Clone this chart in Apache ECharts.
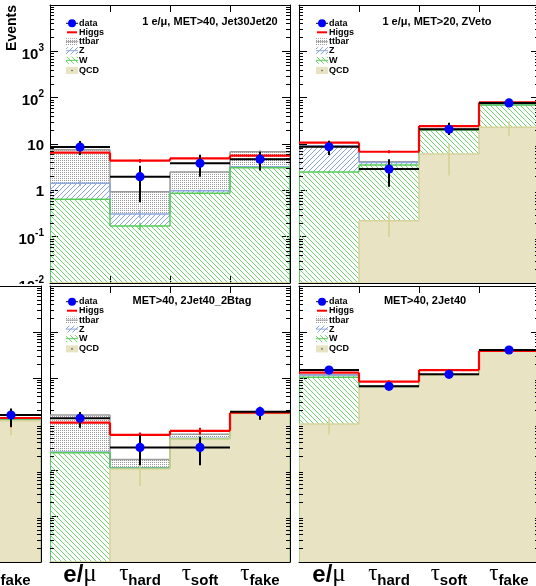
<!DOCTYPE html>
<html><head><meta charset="utf-8">
<script src="https://cdn.jsdelivr.net/npm/echarts@6/dist/echarts.min.js"></script>
<style>html,body{margin:0;padding:0;background:#fff}#c{width:536px;height:586px}</style>
</head><body><div id="c"></div>
<script>
const YMIN = 0.01, YMAX = 10000;
const binLabels = ['e/μ', 'τhard', 'τsoft', 'τfake'];

// Panel A: 1 e/μ, MET>40, Jet30Jet20
const A_qcd = [0, 0, 0, 0];
const A_w = [0.64, 0.17, 0.86, 3.09];
const A_z = [0.78, 0.14, 0.12, 0.15];
const A_ttbar = [6.1, 0.62, 1.52, 3.56];
const A_higgs = [6.5, 4.36, 4.9, 5.6];
const A_data = [8.6, 1.97, 3.83, 4.7];
const A_dataUp = [3.0, 1.43, 2.0, 2.1];
const A_dataDn = [2.8, 1.42, 1.86, 2.03];
const A_qcdErr = [0, 0, 0, 0];
const A_wErr = [0.03, 0.03, 0.05, 0.15];
const A_zErr = [0.2, 0.06, 0.06, 0.1];
const A_ttErr = [0.5, 0.1, 0.2, 0.5];
const A_higgsErr = [0.5, 0.4, 0.45, 0.5];

// Panel B: 1 e/μ, MET>20, ZVeto
const B_qcd = [0, 0.22, 6.1, 23];
const B_w = [2.5, 3.28, 13.9, 46.5];
const B_z = [6.5, 0.5, 0.5, 0.5];
const B_ttbar = [0.2, 0.15, 0.5, 1.0];
const B_higgs = [10.7, 6.8, 24.4, 79];
const B_data = [8.7, 2.88, 20.8, 77];
const B_dataUp = [3.1, 1.8, 8.1, 9];
const B_dataDn = [2.9, 1.68, 5.2, 9];
const B_qcdErr = [0, 0.12, 4, 8];
const B_wErr = [0.1, 0.2, 1, 3];
const B_zErr = [0.4, 0.1, 0.2, 0.3];
const B_ttErr = [0.1, 0.05, 0.2, 0.3];
const B_higgsErr = [0.8, 0.5, 1.5, 4];

// Panel C: partially visible pad (only its last bin lies inside the picture)
const C_qcd = [null, null, null, 11.7];
const C_w = [null, null, null, 0.5];
const C_z = [null, null, null, 0.1];
const C_ttbar = [null, null, null, 0.2];
const C_higgs = [null, null, null, 13.5];
const C_data = [null, null, null, 15.7];
const C_dataUp = [null, null, null, 6];
const C_dataDn = [null, null, null, 7];
const C_qcdErr = [null, null, null, 6];
const C_wErr = [null, null, null, 0.1];
const C_zErr = [null, null, null, 0.05];
const C_ttErr = [null, null, null, 0.1];
const C_higgsErr = [null, null, null, 5];

// Panel D: MET>40, 2Jet40_2Btag
const D_qcd = [0, 1.05, 4.7, 17];
const D_w = [2.38, 0.04, 0.1, 0.1];
const D_z = [0.07, 0.03, 0.1, 0.05];
const D_ttbar = [13.2, 0.58, 1.1, 0.1];
const D_higgs = [10.7, 5.8, 7.1, 17.6];
const D_data = [13.3, 3.1, 3.1, 18.5];
const D_dataUp = [5, 2.7, 2.2, 5.1];
const D_dataDn = [5, 1.83, 1.83, 6.2];
const D_qcdErr = [0, 0.6, 1, 3];
const D_wErr = [0.05, 0.01, 0.02, 0.02];
const D_zErr = [0.05, 0.01, 0.02, 0.02];
const D_ttErr = [1.5, 0.2, 0.3, 0.1];
const D_higgsErr = [1.0, 0.7, 1.2, 1.5];

// Panel E: MET>40, 2Jet40
const E_qcd = [10, 64, 115, 380];
const E_w = [93.5, 1, 1, 5];
const E_z = [12.5, 0.5, 0.5, 2];
const E_ttbar = [2, 0.5, 1.5, 3];
const E_higgs = [130.6, 83, 149, 390];
const E_data = [149, 66, 120, 406];
const E_dataUp = [12, 8, 11, 20];
const E_dataDn = [12, 8, 11, 20];
const E_qcdErr = [4, 3, 5, 10];
const E_wErr = [3, 0.5, 0.5, 1];
const E_zErr = [1, 0.2, 0.2, 0.5];
const E_ttErr = [0.5, 0.2, 0.3, 0.5];
const E_higgsErr = [4, 6, 8, 10];

const panels = [
  {title: '1 e/μ, MET>40, Jet30Jet20', g: {left: 50, top: 5, width: 240, height: 278}, tx: 210, ty: 22, lx: 72, ly: 23.3, yLab: true, xLab: false,
   qcd: A_qcd, w: A_w, z: A_z, tt: A_ttbar, higgs: A_higgs, data: A_data, up: A_dataUp, dn: A_dataDn, qcdErr: A_qcdErr, wErr: A_wErr, zErr: A_zErr, ttErr: A_ttErr, hErr: A_higgsErr},
  {title: '1 e/μ, MET>20, ZVeto', g: {left: 299, top: 5, width: 240, height: 278}, tx: 437, ty: 22, lx: 322, ly: 23.3, yLab: false, xLab: false,
   qcd: B_qcd, w: B_w, z: B_z, tt: B_ttbar, higgs: B_higgs, data: B_data, up: B_dataUp, dn: B_dataDn, qcdErr: B_qcdErr, wErr: B_wErr, zErr: B_zErr, ttErr: B_ttErr, hErr: B_higgsErr},
  {title: null, g: {left: -199, top: 286, width: 240, height: 276}, yLab: false, xLab: true,
   qcd: C_qcd, w: C_w, z: C_z, tt: C_ttbar, higgs: C_higgs, data: C_data, up: C_dataUp, dn: C_dataDn, qcdErr: C_qcdErr, wErr: C_wErr, zErr: C_zErr, ttErr: C_ttErr, hErr: C_higgsErr},
  {title: 'MET>40, 2Jet40_2Btag', g: {left: 50, top: 286, width: 240, height: 276}, tx: 192, ty: 301, lx: 72, ly: 301.7, yLab: false, xLab: true,
   qcd: D_qcd, w: D_w, z: D_z, tt: D_ttbar, higgs: D_higgs, data: D_data, up: D_dataUp, dn: D_dataDn, qcdErr: D_qcdErr, wErr: D_wErr, zErr: D_zErr, ttErr: D_ttErr, hErr: D_higgsErr},
  {title: 'MET>40, 2Jet40', g: {left: 299, top: 286, width: 240, height: 276}, tx: 425, ty: 301, lx: 322, ly: 301.7, yLab: false, xLab: true,
   qcd: E_qcd, w: E_w, z: E_z, tt: E_ttbar, higgs: E_higgs, data: E_data, up: E_dataUp, dn: E_dataDn, qcdErr: E_qcdErr, wErr: E_wErr, zErr: E_zErr, ttErr: E_ttErr, hErr: E_higgsErr}
];

// ---------- styles ----------
function makeHatch(color, dir, s) {
  const c = document.createElement('canvas'); c.width = s; c.height = s;
  const g = c.getContext('2d');
  g.strokeStyle = color; g.lineWidth = 1;
  g.beginPath();
  if (dir > 0) {
    g.moveTo(-1, s + 1); g.lineTo(s + 1, -1);
    g.moveTo(-1, 1); g.lineTo(1, -1);
    g.moveTo(s - 1, s + 1); g.lineTo(s + 1, s - 1);
  } else {
    g.moveTo(-1, -1); g.lineTo(s + 1, s + 1);
    g.moveTo(s - 1, -1); g.lineTo(s + 1, 1);
    g.moveTo(-1, s - 1); g.lineTo(1, s + 1);
  }
  g.stroke();
  return {image: c, repeat: 'repeat'};
}
function makeDots() {
  const c = document.createElement('canvas'); c.width = 4; c.height = 4;
  const g = c.getContext('2d');
  g.fillStyle = '#ffffff'; g.fillRect(0, 0, 4, 4);
  g.fillStyle = '#9a9a9a';
  g.fillRect(0, 0, 1, 1); g.fillRect(2, 2, 1, 1); g.fillRect(2, 0, 1, 1); g.fillRect(0, 2, 1, 1);
  return {image: c, repeat: 'repeat'};
}
const FILL = {qcd: '#e7e3c3', w: makeHatch('#6fd56f', -1, 5), z: makeHatch('#88a2dc', 1, 5), tt: makeDots()};
const LINE = {qcd: '#d7d39c', w: '#55cc55', z: '#8ea7dc', tt: '#9a9a9a'};
const COMP = ['qcd', 'w', 'z', 'tt'];
const FONT = 'Liberation Sans';

function clampV(v) { return Math.min(YMAX, Math.max(YMIN, v)); }
function yAt(api, i, v) { return api.coord([i, clampV(v)])[1]; }
function cumTops(P, i) {
  if (P.qcd[i] == null) return null;
  const t = {}; let c = 0;
  COMP.forEach(k => { c += P[k][i]; t[k] = c; });
  return t;
}

function fillRender(P) {
  return function (params, api) {
    const i = params.dataIndex;
    const t = cumTops(P, i); if (!t) return null;
    const cx = api.coord([i, 1])[0], hw = api.size([1, 0])[0] / 2;
    const ch = []; let lo = 0;
    COMP.forEach(k => {
      const hi = t[k];
      if (hi > lo) {
        const y1 = yAt(api, i, hi), y0 = yAt(api, i, lo);
        if (y0 - y1 > 0.1) ch.push({type: 'rect', shape: {x: cx - hw, y: y1, width: 2 * hw, height: y0 - y1}, style: {fill: FILL[k]}});
      }
      lo = hi;
    });
    return {type: 'group', children: ch};
  };
}
function stepLines(api, i, vals, color, width, ends) {
  const cx = api.coord([i, 1])[0], hw = api.size([1, 0])[0] / 2;
  const y = yAt(api, i, vals[i]);
  const ch = [{type: 'line', shape: {x1: cx - hw, y1: y, x2: cx + hw, y2: y}, style: {stroke: color, lineWidth: width}}];
  if (i + 1 < vals.length && vals[i + 1] != null) {
    const yn = yAt(api, i + 1, vals[i + 1]);
    ch.push({type: 'line', shape: {x1: cx + hw, y1: y, x2: cx + hw, y2: yn}, style: {stroke: color, lineWidth: width}});
  }
  if (ends) {
    const yb = yAt(api, i, YMIN);
    if (i === 0) ch.push({type: 'line', shape: {x1: cx - hw, y1: y, x2: cx - hw, y2: yb}, style: {stroke: color, lineWidth: width}});
    if (i === vals.length - 1) ch.push({type: 'line', shape: {x1: cx + hw, y1: y, x2: cx + hw, y2: yb}, style: {stroke: color, lineWidth: width}});
  }
  return ch;
}
function outlineRender(P) {
  return function (params, api) {
    const i = params.dataIndex;
    if (P.qcd[i] == null) return null;
    const tops = {}; COMP.forEach(k => tops[k] = P.qcd.map((_, j) => { const t = cumTops(P, j); return t ? t[k] : null; }));
    let ch = [];
    ['tt', 'z', 'w', 'qcd'].forEach(k => { ch = ch.concat(stepLines(api, i, tops[k], LINE[k], 1.5, true)); });
    const t = cumTops(P, i), cx = api.coord([i, 1])[0];
    const errs = {qcd: P.qcdErr, w: P.wErr, z: P.zErr, tt: P.ttErr};
    ['tt', 'z', 'w', 'qcd'].forEach(k => {
      const e = errs[k][i];
      if (e > 0 && P[k][i] > 0) {
        ch.push({type: 'line', shape: {x1: cx, y1: yAt(api, i, t[k] + e), x2: cx, y2: yAt(api, i, t[k] - e)}, style: {stroke: k === 'qcd' ? '#d6d08e' : LINE[k], lineWidth: 1.5}});
      }
    });
    return {type: 'group', children: ch};
  };
}
function higgsRender(P) {
  return function (params, api) {
    const i = params.dataIndex;
    if (P.higgs[i] == null) return null;
    const ch = stepLines(api, i, P.higgs, '#ff0000', 2.2, false);
    const cx = api.coord([i, 1])[0], v = P.higgs[i], e = P.hErr[i];
    ch.push({type: 'line', shape: {x1: cx, y1: yAt(api, i, v + e), x2: cx, y2: yAt(api, i, v - e)}, style: {stroke: '#ff0000', lineWidth: 2}});
    return {type: 'group', children: ch};
  };
}
function dataRender(P) {
  return function (params, api) {
    const i = params.dataIndex;
    if (P.data[i] == null) return null;
    const c = api.coord([i, clampV(P.data[i])]), hw = api.size([1, 0])[0] / 2;
    const yt = yAt(api, i, P.data[i] + P.up[i]), yb = yAt(api, i, P.data[i] - P.dn[i]);
    return {type: 'group', children: [
      {type: 'line', shape: {x1: c[0] - hw, y1: c[1], x2: c[0] + hw, y2: c[1]}, style: {stroke: '#000', lineWidth: 2}},
      {type: 'line', shape: {x1: c[0], y1: yt, x2: c[0], y2: yb}, style: {stroke: '#000', lineWidth: 2}},
      {type: 'circle', shape: {cx: c[0], cy: c[1], r: 4.6}, style: {fill: '#0000ff'}}
    ]};
  };
}
// minor log ticks (2..9 x 10^k)
const minorVals = [];
for (let e = -2; e < 4; e++) for (let m = 2; m <= 9; m++) minorVals.push(+(m * Math.pow(10, e)).toPrecision(3));
function minorRender(params, api) {
  const v = minorVals[params.dataIndex];
  const y = Math.round(api.coord([0, v])[1]) + 0.5;
  const cs = params.coordSys;
  return {type: 'group', children: [
    {type: 'line', shape: {x1: cs.x, y1: y, x2: cs.x + 4, y2: y}, style: {stroke: '#000', lineWidth: 1}},
    {type: 'line', shape: {x1: cs.x + cs.width - 4, y1: y, x2: cs.x + cs.width, y2: y}, style: {stroke: '#000', lineWidth: 1}}
  ]};
}

const grid = [], xAxis = [], yAxis = [], series = [], graphic = [];
const binIdx = binLabels.map((b, i) => [i, 1]);

panels.forEach((P, pi) => {
  const bottom = P.g.top > 100;
  const zz = bottom ? 5 : 2;
  grid.push(Object.assign({show: false, containLabel: false, outerBoundsMode: 'none'}, P.g));
  const xa = (pos, lab) => ({
    type: 'category', gridIndex: pi, position: pos, data: binLabels, boundaryGap: true, z: zz,
    axisLine: {show: true, onZero: false, lineStyle: {color: '#000', width: 1}},
    axisTick: {show: true, inside: true, length: 7, interval: 0, lineStyle: {color: '#000', width: 1}},
    splitLine: {show: false},
    axisLabel: {show: lab, interval: 0, margin: 0, hideOverlap: false,
      formatter: v => v === 'e/μ' ? '{e|e/}{mu|μ}' : '{t|τ}{s|' + v.slice(1) + '}',
      rich: {
        e: {fontFamily: FONT, fontWeight: 'bold', fontSize: 24, color: '#000', verticalAlign: 'bottom'},
        mu: {fontFamily: 'Liberation Serif', fontSize: 25, color: '#000', verticalAlign: 'bottom'},
        t: {fontFamily: 'Liberation Serif', fontSize: 23, color: '#000', verticalAlign: 'bottom', padding: [0, 0, 3, 0]},
        s: {fontFamily: FONT, fontWeight: 'bold', fontSize: 15, color: '#000', verticalAlign: 'bottom'}
      }}
  });
  xAxis.push(xa('bottom', P.xLab), xa('top', false));
  const ya = (pos, lab) => ({
    type: 'log', logBase: 10, gridIndex: pi, position: pos, min: YMIN, max: YMAX, z: zz,
    axisLine: {show: true, lineStyle: {color: '#000', width: 1}},
    axisTick: {show: true, inside: true, length: 8, lineStyle: {color: '#000', width: 1}},
    splitLine: {show: false}, minorTick: {show: false},
    axisLabel: {show: lab, margin: 6, showMaxLabel: false,
      formatter: v => {
        const e = Math.round(Math.log10(v));
        if (e === 0) return '{b|1}';
        if (e === 1) return '{b|10}';
        return '{b|10}{s|' + e + '}';
      },
      rich: {
        b: {fontFamily: FONT, fontWeight: 'bold', fontSize: 15, color: '#000', verticalAlign: 'bottom', padding: [0, 0, -3, 0]},
        s: {fontFamily: FONT, fontWeight: 'bold', fontSize: 10, color: '#000', verticalAlign: 'bottom', padding: [0, 0, 6, 0]}
      }}
  });
  yAxis.push(ya('left', P.yLab), ya('right', false));
  const base = {type: 'custom', xAxisIndex: 2 * pi, yAxisIndex: 2 * pi, z: zz + 1, silent: true, animation: false, clip: true};
  series.push(Object.assign({}, base, {name: 'stack', data: binIdx, renderItem: fillRender(P)}));
  series.push(Object.assign({}, base, {name: 'stackLines', data: binIdx, renderItem: outlineRender(P)}));
  series.push(Object.assign({}, base, {name: 'Higgs', data: binIdx, renderItem: higgsRender(P), clip: false}));
  series.push(Object.assign({}, base, {name: 'data', data: binIdx, renderItem: dataRender(P), clip: false}));
  series.push(Object.assign({}, base, {name: 'minor', data: minorVals.map(v => [0, v]), renderItem: minorRender, z: zz + 2}));

  if (P.title) {
    graphic.push({type: 'text', x: P.tx, y: P.ty, z: 20, style: {text: P.title, font: 'bold 11px "Liberation Sans"', fill: '#000', align: 'center', verticalAlign: 'middle'}});
  }
  if (P.lx !== undefined) {
    const x0 = P.lx, dy = [0, 9, 18.4, 27.4, 37, 47.2];
    const rows = ['data', 'Higgs', 'ttbar', 'Z', 'W', 'QCD'];
    rows.forEach((r, k) => {
      graphic.push({type: 'text', x: x0 + 7, y: P.ly + dy[k], z: 20, style: {text: r, font: 'bold 9px "Liberation Sans"', fill: '#000', align: 'left', verticalAlign: 'middle'}});
    });
    const y = k => P.ly + dy[k];
    graphic.push({type: 'line', z: 20, shape: {x1: x0 - 6, y1: y(0), x2: x0 + 6, y2: y(0)}, style: {stroke: '#000', lineWidth: 1}});
    graphic.push({type: 'circle', z: 21, shape: {cx: x0, cy: y(0), r: 4}, style: {fill: '#0000ff'}});
    graphic.push({type: 'line', z: 20, shape: {x1: x0 - 5, y1: y(1), x2: x0 + 5, y2: y(1)}, style: {stroke: '#ff0000', lineWidth: 2}});
    [['tt', 2], ['z', 3], ['w', 4], ['qcd', 5]].forEach(([k, r]) => {
      graphic.push({type: 'rect', z: 20, shape: {x: x0 - 6, y: y(r) - 3.5, width: 12, height: 7}, style: {fill: FILL[k]}});
      if (k !== 'qcd') graphic.push({type: 'line', z: 21, shape: {x1: x0 - 6, y1: y(r), x2: x0 + 6, y2: y(r)}, style: {stroke: LINE[k], lineWidth: 1}});
      else graphic.push({type: 'circle', z: 21, shape: {cx: x0, cy: y(r), r: 0.8}, style: {fill: '#555'}});
    });
  }
});

// the lower row of pads lies over the lower edge of the upper row
graphic.push({type: 'rect', z: 3, shape: {x: 0, y: 284, width: 536, height: 302}, style: {fill: '#fff'}});
graphic.push({type: 'text', x: 12, y: 5, rotation: Math.PI / 2, z: 20, style: {text: 'Events', font: 'bold 14px "Liberation Sans"', fill: '#000', align: 'right', verticalAlign: 'middle'}});

const chart = echarts.init(document.getElementById('c'), null, {renderer: 'canvas', width: 536, height: 586});
chart.setOption({animation: false, backgroundColor: '#fff', grid, xAxis, yAxis, series, graphic});
</script></body></html>
